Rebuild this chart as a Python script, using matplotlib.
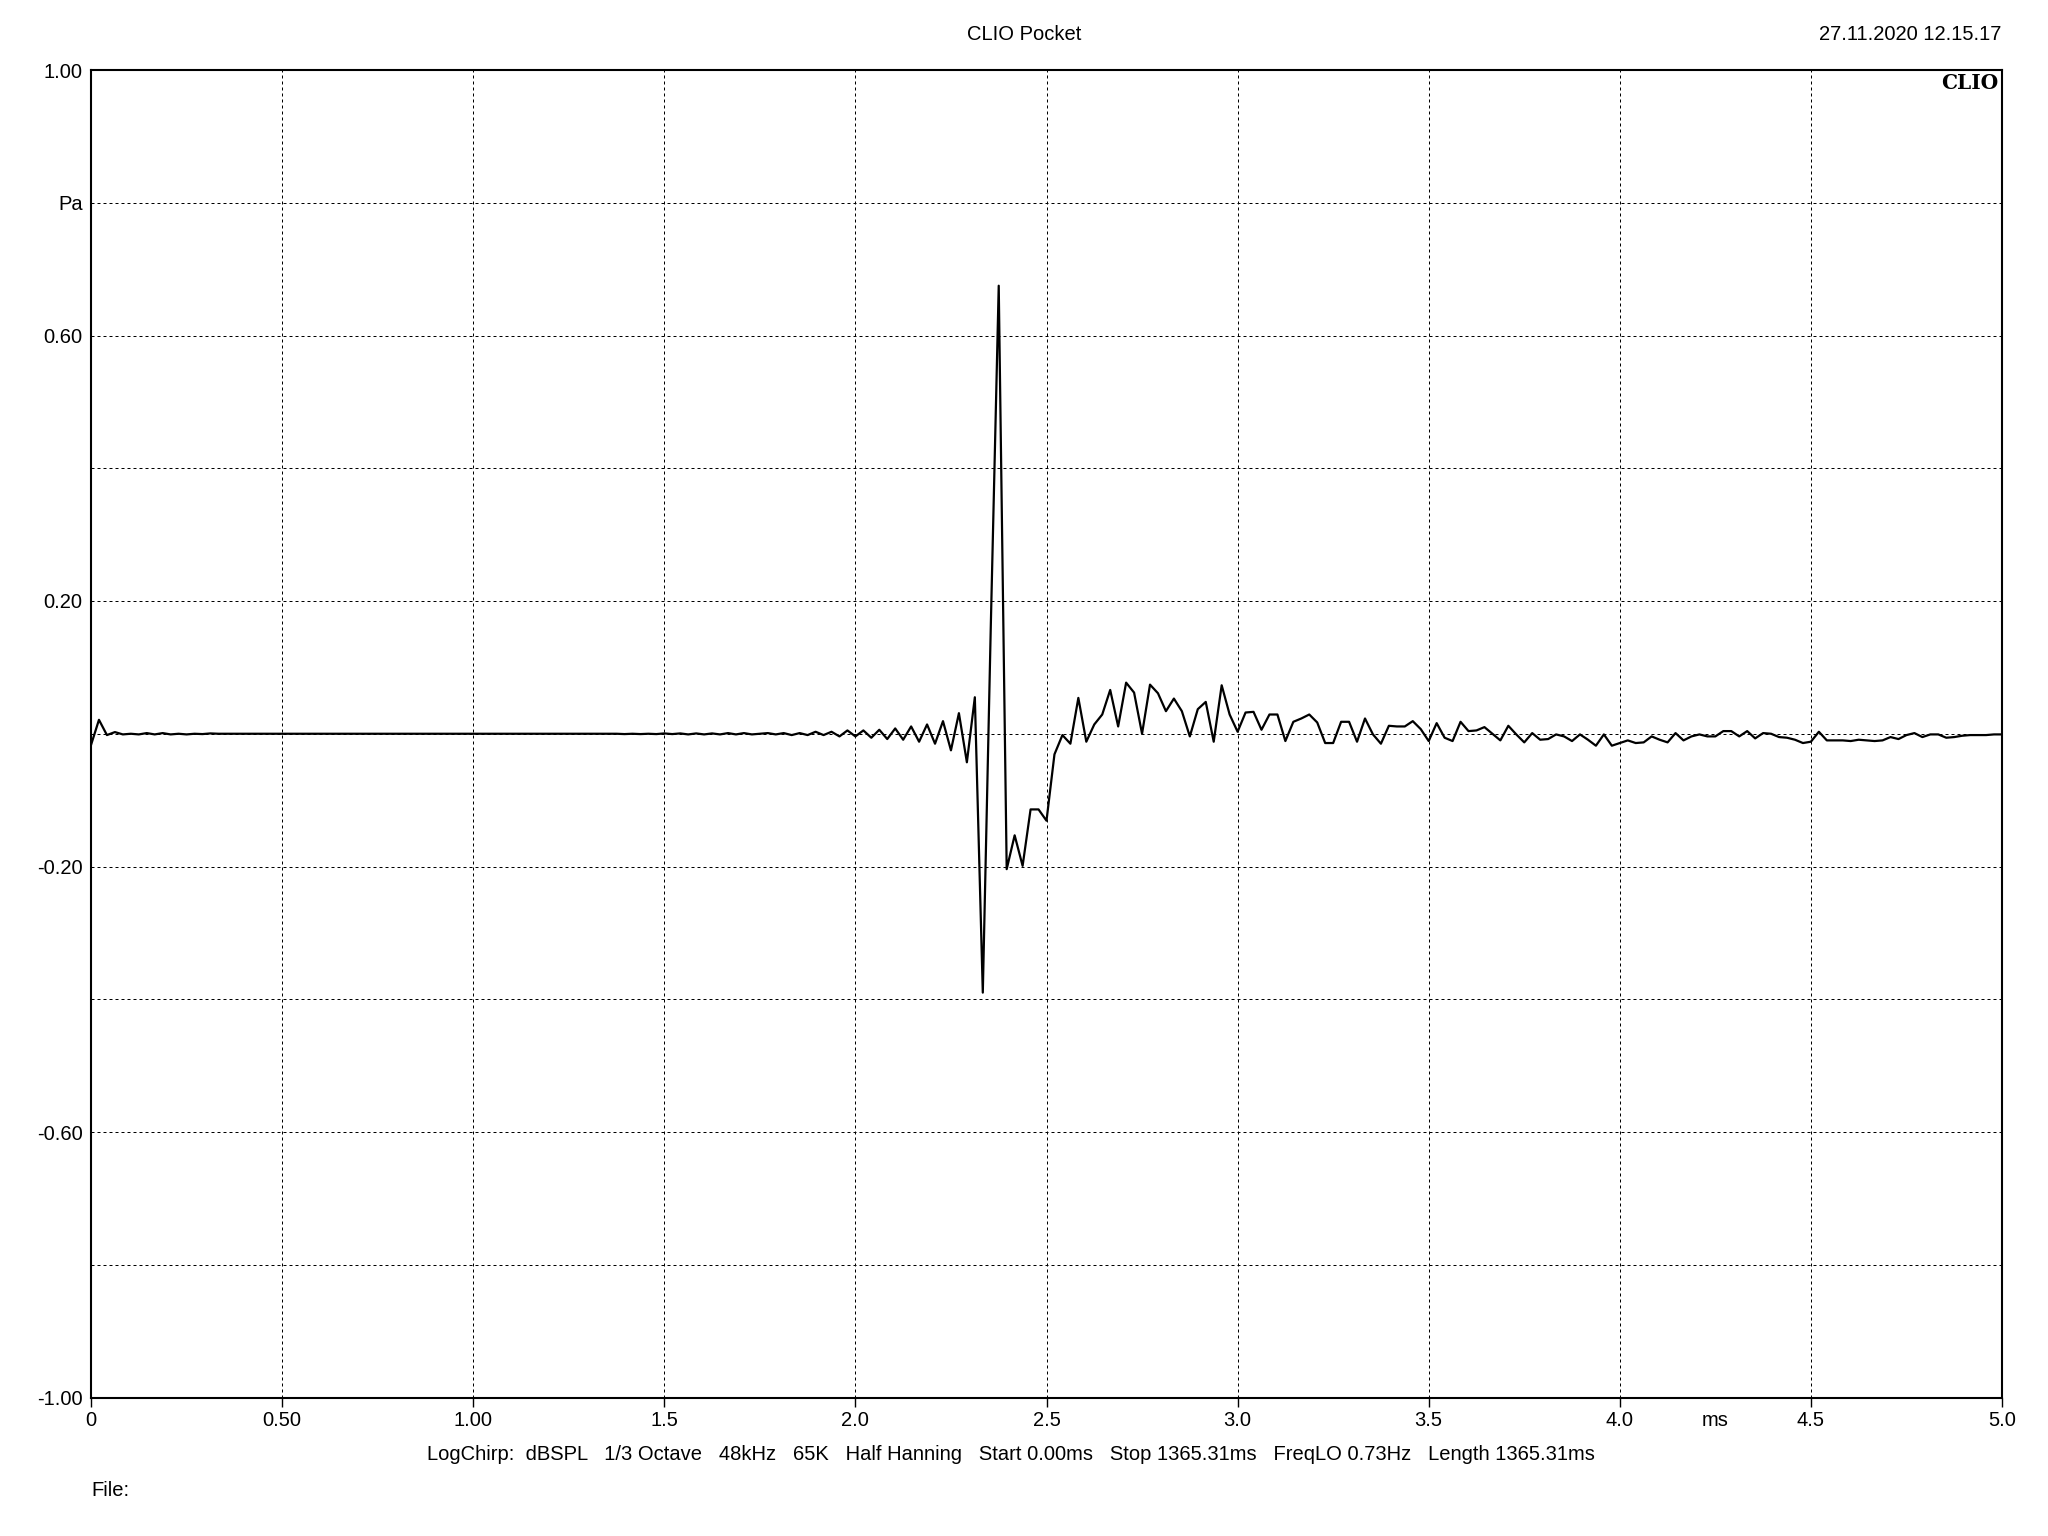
import numpy as np
import matplotlib
matplotlib.use("Agg")
import matplotlib.pyplot as plt

# impulse response samples (Pa), 48 kHz, 0 .. 5 ms
fs_khz = 48.0
pressure = [
    -0.017, 0.021, -0.002, 0.0025, -0.001, 0.000, -0.001, 0.001, -0.001, 0.001,   # 0-9
    -0.001, 0.000, -0.001, 0.000, -0.0005, 0.0005, 0.000, 0.000, 0.000, 0.000,      # 10-19
    0.000, 0.000, 0.000, 0.000, 0.000, 0.000, 0.000, 0.000, 0.000, 0.000,           # 20-29
    0.000, 0.000, 0.000, 0.000, 0.000, 0.000, 0.000, 0.000, 0.000, 0.000,           # 30-39
    0.000, 0.000, 0.000, 0.000, 0.000, 0.000, 0.000, 0.000, 0.000, 0.000,           # 40-49
    0.000, 0.000, 0.000, 0.000, 0.000, 0.000, 0.000, 0.000, 0.000, 0.000,           # 50-59
    0.000, 0.000, 0.000, 0.000, 0.000, 0.000, 0.000, -0.0005, 0.000, -0.0005,       # 60-69
    0.000, -0.0005, 0.0005, -0.0005, 0.0005, -0.001, 0.0005, -0.001, 0.0005, -0.001, # 70-79
    0.001, -0.001, 0.001, -0.001, 0.000, 0.001, -0.001, 0.001, -0.002, 0.001,       # 80-89
    -0.002, 0.003, -0.002, 0.003, -0.004, 0.005, -0.004, 0.005, -0.006, 0.006,      # 90-99
    -0.008, 0.008, -0.009, 0.011, -0.012, 0.014, -0.015, 0.019, -0.025, 0.031,      # 100-109
    -0.043, 0.055, -0.390, 0.160, 0.675, -0.204, -0.153, -0.199, -0.114, -0.114,    # 110-119
    -0.131, -0.031, -0.002, -0.015, 0.054, -0.012, 0.014, 0.029, 0.066, 0.011,      # 120-129
    0.077, 0.062, 0.000, 0.074, 0.061, 0.034, 0.053, 0.034, -0.004, 0.037,          # 130-139
    0.048, -0.012, 0.073, 0.029, 0.003, 0.032, 0.033, 0.006, 0.029, 0.029,          # 140-149
    -0.011, 0.018, 0.023, 0.029, 0.017, -0.014, -0.014, 0.018, 0.018, -0.012,       # 150-159
    0.023, -0.001, -0.015, 0.012, 0.011, 0.011, 0.019, 0.007, -0.011, 0.016,        # 160-169
    -0.006, -0.011, 0.018, 0.004, 0.005, 0.010, 0.000, -0.010, 0.012, -0.001,       # 170-179
    -0.013, 0.001, -0.009, -0.008, -0.001, -0.004, -0.011, -0.001, -0.009, -0.018,  # 180-189
    -0.001, -0.018, -0.014, -0.010, -0.014, -0.013, -0.004, -0.009, -0.013, 0.001,  # 190-199
    -0.010, -0.004, -0.001, -0.004, -0.004, 0.004, 0.004, -0.004, 0.004, -0.007,    # 200-209
    0.001, 0.000, -0.005, -0.006, -0.009, -0.014, -0.012, 0.003, -0.010, -0.010,    # 210-219
    -0.010, -0.011, -0.009, -0.010, -0.011, -0.010, -0.005, -0.008, -0.002, 0.001,  # 220-229
    -0.005, -0.001, -0.001, -0.006, -0.005, -0.003, -0.002, -0.002, -0.002, -0.001, # 230-239
    -0.001,                                                                         # 240
]
time_ms = np.arange(len(pressure)) / fs_khz

x_ticks = [0, 0.5, 1.0, 1.5, 2.0, 2.5, 3.0, 3.5, 4.0, 4.5, 5.0]
x_labels = ["0", "0.50", "1.00", "1.5", "2.0", "2.5", "3.0", "3.5", "4.0", "4.5", "5.0"]
y_ticks = [-1.0, -0.8, -0.6, -0.4, -0.2, 0.0, 0.2, 0.4, 0.6, 0.8, 1.0]
y_labels = ["-1.00", "", "-0.60", "", "-0.20", "", "0.20", "", "0.60", "Pa", "1.00"]

settings_line = ("LogChirp:  dBSPL   1/3 Octave   48kHz   65K   Half Hanning   "
                 "Start 0.00ms   Stop 1365.31ms   FreqLO 0.73Hz   Length 1365.31ms")

FS = 14.5
plt.rcParams["font.family"] = ["Liberation Sans", "DejaVu Sans"]
W, H = 2048, 1536
fig = plt.figure(figsize=(W / 100, H / 100), dpi=100)
ax = fig.add_axes([91 / W, 1 - 1397.5 / H, (2002 - 91) / W, (1397.5 - 70) / H])

ax.plot(time_ms, pressure, color="black", lw=1.6, zorder=3)

ax.set_xlim(0, 5.0)
ax.set_ylim(-1.0, 1.0)
ax.set_xticks(x_ticks)
ax.set_xticklabels(x_labels)
ax.set_yticks(y_ticks)
ax.set_yticklabels(y_labels)
ax.tick_params(axis="x", direction="out", length=6.5, width=1.0, pad=3.5, labelsize=FS)
ax.tick_params(axis="y", length=0, pad=6, labelsize=FS)
ax.grid(True, color="black", lw=0.72, linestyle=(0, (3, 3)))
for s in ax.spines.values():
    s.set_linewidth(1.5)
    s.set_color("black")

# labels and captions
fig.text(1024 / W, 1 - 34 / H, "CLIO Pocket", ha="center", va="center", fontsize=FS)
fig.text(2001 / W, 1 - 34 / H, "27.11.2020 12.15.17", ha="right", va="center", fontsize=FS)
ax.text(0.998, 0.998, "CLIO", transform=ax.transAxes, ha="right", va="top",
        fontsize=14.5, fontweight="bold", family="DejaVu Serif")
ax.text(4.25, -1.0, "ms", ha="center", va="top", fontsize=FS,
        transform=ax.transData + matplotlib.transforms.ScaledTranslation(0, -14 / 100, fig.dpi_scale_trans))
fig.text(1011 / W, 1 - 1455 / H, settings_line, ha="center", va="center", fontsize=FS)
fig.text(91 / W, 1 - 1490 / H, "File:", ha="left", va="center", fontsize=FS)

fig.savefig("out.png", dpi=100, facecolor="white")
